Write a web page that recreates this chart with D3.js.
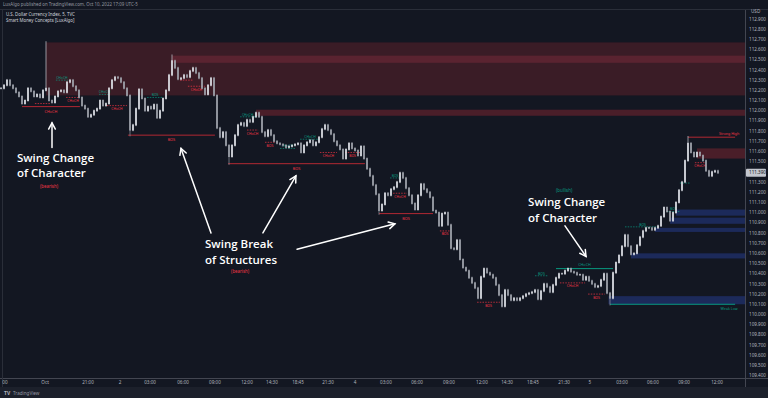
<!DOCTYPE html>
<html><head><meta charset="utf-8">
<script src="https://cdn.jsdelivr.net/npm/d3@7"></script>
<style>html,body{margin:0;padding:0;background:#131722;overflow:hidden}svg{display:block}</style>
</head><body><svg id="c" width="768" height="398"></svg>
<script>
// ---------- DATA ----------
const closes = [
112.22,112.25,112.30,112.25,112.22,112.18,112.14,112.07,112.10,112.22,
112.19,112.14,112.16,112.13,112.20,112.22,112.10,112.08,112.14,112.19,
112.20,112.18,112.28,112.30,112.24,112.20,112.13,112.05,112.02,111.94,
111.96,112.00,112.02,112.10,112.05,112.07,112.22,112.30,112.33,112.32,
112.28,112.22,112.15,111.81,111.86,112.02,112.21,112.12,112.00,112.04,
112.02,112.06,111.93,112.00,112.12,112.20,112.35,112.49,112.42,112.31,
112.32,112.35,112.33,112.39,112.42,112.37,112.32,112.22,112.16,112.25,
112.32,112.15,111.83,111.74,111.79,111.66,111.55,111.66,111.76,111.86,
111.88,111.85,111.91,111.89,111.94,111.98,111.94,111.79,111.75,111.81,
111.76,111.70,111.68,111.67,111.66,111.64,111.65,111.66,111.67,111.68,
111.59,111.66,111.69,111.71,111.66,111.69,111.74,111.82,111.86,111.81,
111.77,111.70,111.66,111.62,111.53,111.62,111.68,111.63,111.61,111.56,
111.65,111.53,111.43,111.36,111.27,111.18,111.02,111.08,111.19,111.17,
111.23,111.25,111.30,111.39,111.34,111.24,111.17,111.09,111.03,111.17,
111.28,111.23,111.20,111.15,111.02,111.00,110.87,110.99,111.00,110.88,
110.65,110.64,110.73,110.54,110.46,110.43,110.36,110.31,110.26,110.16,
110.37,110.45,110.41,110.39,110.36,110.29,110.19,110.08,110.24,110.19,
110.14,110.16,110.14,110.16,110.18,110.20,110.21,110.22,110.24,110.15,
110.23,110.30,110.27,110.22,110.29,110.36,110.40,110.40,110.43,110.45,
110.42,110.41,110.39,110.39,110.34,110.37,110.33,110.30,110.27,110.28,
110.34,110.40,110.21,110.16,110.41,110.51,110.58,110.67,110.78,110.67,
110.59,110.60,110.68,110.76,110.82,110.85,110.85,110.83,110.85,110.87,
110.96,111.05,111.01,110.92,111.00,111.10,111.22,111.30,111.51,111.68,
111.59,111.55,111.59,111.56,111.51,111.41,111.36,111.40,111.41,111.39
];
// notable wicks: [candle index, high, low]
const wickExtremes = [[15,112.67,null],[43,null,111.76],[57,112.54,null],[76,null,111.48],[126,null,110.99],[203,null,110.10],[229,111.74,null]];

const priceTicks = [112.9,112.8,112.7,112.6,112.5,112.4,112.3,112.2,112.1,112.0,111.9,111.8,111.7,111.6,111.5,111.4,111.3,111.2,111.1,111.0,110.9,110.8,110.7,110.6,110.5,110.4,110.3,110.2,110.1,110.0,109.9,109.8,109.7,109.6,109.5,109.4];
const timeTickLabels = ["00","Oct","21:00","2","03:00","06:00","09:00","12:00","14:30","18:45","21:30","4","03:00","06:00","09:00","12:00","14:30","18:45","21:30","5","03:00","06:00","09:00","12:00"];
const timeTickIndex  = [1.3,14.7,29,39.7,49.7,60.7,71.3,82,90.3,99,109,118,128.3,138.7,149.3,160.3,168.7,177.3,187.7,196.3,207,217.3,227.7,238.7];

// order blocks: [start index, top, bottom]
const bearZones = [[15,112.67,112.15],[57,112.54,112.47],[85,112.01,111.95],[232,111.63,111.53]];
const bullZones = [[225,111.03,110.97],[223,110.95,110.89],[218,110.85,110.81],[210,110.60,110.55],[202.5,110.18,110.10]];

// swing structure: [from, to, price, direction, label]
const swingLines = [[7,26.3,112.04,"bear","CHoCH"],[42.3,71.3,111.76,"bear","BOS"],[75.7,121.3,111.48,"bear","BOS"],[126,144,110.99,"bear","BOS"],[185,204,110.45,"bull","CHoCH"]];
// internal structure: [from, to, price, direction, label]
const internalLines = [
[11.3,16.3,112.07,"bear",""],[21.7,26.3,112.13,"bear","CHoCH"],[35.3,42,112.05,"bear","CHoCH"],[59.7,64,112.30,"bear",""],
[62.3,68,112.24,"bear","CHoCH"],[82,85.7,111.81,"bear","CHoCH"],[88,91.3,111.69,"bear","BOS"],[106.3,112,111.59,"bear","CHoCH"],
[114.7,119.7,111.59,"bear","BOS"],[130.7,135.3,111.19,"bear","CHoCH"],[146.3,149.7,110.82,"bear","BOS"],[158.7,166.3,110.12,"bear","BOS"],
[186.3,194.7,110.31,"bear","CHoCH"],[195.7,201.3,110.20,"bear","BOS"],[231.3,234.7,111.49,"bear","CHoCH"],
[18.3,22.3,112.30,"bull","CHoCH"],[32.7,36.3,112.16,"bull","CHoCH"],[48.7,54,112.13,"bull","BOS"],[79.7,84.7,111.94,"bull","CHoCH"],
[93,98,111.63,"bull","CHoCH"],[99.7,106.3,111.72,"bull","CHoCH"],[129.7,133,111.34,"bull","BOS"],[178,182.3,110.38,"bull","BOS"],
[208,219.7,110.86,"bull","BOS"],[222,226.3,111.01,"bull","BOS"],[226.3,229.7,111.29,"bull",""]
];
const strongHigh = [229,244.7,111.74,"Strong High"];
const weakLow = [203,244.7,110.10,"Weak Low"];

// annotations: lines, anchor index, anchor price (first baseline)
const notes = [
  {lines:["Swing Change","of Character"], i:5.3, p:111.50, tag:"(bearish)", ti:16, tp:111.26, dir:"bear"},
  {lines:["Swing Break","of Structures"], i:68, p:110.65, tag:"(bearish)", ti:79.7, tp:110.42, dir:"bear"},
  {lines:["Swing Change","of Character"], i:175.7, p:111.06, tag:"(bullish)", ti:187.7, tp:111.22, dir:"bull"}
];
// arrows: [from index, from price, to index, to price]
const arrows = [[17,111.64,17,111.88],[70,110.80,60,111.63],[87.3,110.80,98.3,111.36],[98.7,110.64,131.3,110.89],[188,110.87,195,110.57]];

// ---------- DRAW ----------
const W=768,H=398, plotR=745, plotB=378;
const svg=d3.select("#c");
const x=d3.scaleLinear().domain([0,239]).range([1,718]);
const y=d3.scaleLinear().domain([109.4,112.9]).range([375.6,19]);
const RED="#f23645", TEAL="#089981", SRED="#b22833";
const colr=d=>d==="bear"?RED:TEAL;

svg.append("rect").attr("width",W).attr("height",H).attr("fill","#131722");
svg.append("rect").attr("x",0).attr("y",387).attr("width",W).attr("height",11).attr("fill","#1c202b");

const plot=svg.append("g");
plot.append("clipPath").attr("id","clip").append("rect").attr("x",0).attr("y",10).attr("width",plotR).attr("height",plotB-10);
const g=plot.append("g").attr("clip-path","url(#clip)");

// zones
g.selectAll(".bz").data(bearZones).join("rect")
 .attr("x",d=>x(d[0])).attr("y",d=>y(d[1])).attr("width",d=>plotR-x(d[0])).attr("height",d=>y(d[2])-y(d[1]))
 .attr("fill",(d,k)=>k===0?"#3a1c26":(k===1?"#5a2330":"#4a1e29"));
g.selectAll(".uz").data(bullZones).join("rect")
 .attr("x",d=>x(d[0])).attr("y",d=>y(d[1])).attr("width",d=>plotR-x(d[0])).attr("height",d=>y(d[2])-y(d[1]))
 .attr("fill","#1c2a5a");

// internal structure
g.selectAll(".il").data(internalLines).join("line")
 .attr("x1",d=>x(d[0])).attr("x2",d=>x(d[1])).attr("y1",d=>y(d[2])).attr("y2",d=>y(d[2]))
 .attr("stroke",d=>colr(d[3])).attr("stroke-width",0.7).attr("stroke-dasharray","1.5,1.2");
g.selectAll(".it").data(internalLines.filter(d=>d[4])).join("text")
 .attr("x",d=>(x(d[0])+x(d[1]))/2).attr("y",d=>y(d[2])+(d[3]==="bear"?4.5:-1.2))
 .attr("text-anchor","middle").attr("font-size",3.4).attr("font-family","Noto Sans").attr("fill",d=>colr(d[3])).text(d=>d[4]);

// swing structure
g.selectAll(".sl").data(swingLines).join("line")
 .attr("x1",d=>x(d[0])).attr("x2",d=>x(d[1])).attr("y1",d=>y(d[2])).attr("y2",d=>y(d[2]))
 .attr("stroke",d=>d[3]==="bear"?SRED:TEAL).attr("stroke-width",1);
g.selectAll(".st").data(swingLines).join("text")
 .attr("x",d=>(x(d[0])+x(d[1]))/2).attr("y",d=>y(d[2])+(d[3]==="bear"?6:-2.5))
 .attr("text-anchor","middle").attr("font-size",3.8).attr("font-family","Noto Sans").attr("fill",d=>colr(d[3])).text(d=>d[4]);

[[strongHigh,SRED,"bear"],[weakLow,TEAL,"bull"]].forEach(([d,c,dir])=>{
  g.append("line").attr("x1",x(d[0])).attr("x2",x(d[1])).attr("y1",y(d[2])).attr("y2",y(d[2])).attr("stroke",c).attr("stroke-width",1);
  g.append("text").attr("x",x(d[1])-6).attr("y",y(d[2])+(dir==="bear"?-2.5:5.5)).attr("text-anchor","middle")
   .attr("font-size",3.6).attr("font-family","Noto Sans").attr("fill",dir==="bear"?RED:TEAL).text(d[3]);
});

// candles
const candles=closes.map((c,i)=>{
  const o=i?closes[i-1]:c; let h=Math.max(o,c), l=Math.min(o,c);
  const e=wickExtremes.find(w=>w[0]===i);
  if(e){ if(e[1]!=null) h=Math.max(h,e[1]); if(e[2]!=null) l=Math.min(l,e[2]); }
  return {i,o,c,h,l,up:c>=o};
});
g.selectAll(".wk").data(candles).join("line")
 .attr("x1",d=>x(d.i)).attr("x2",d=>x(d.i)).attr("y1",d=>y(d.h)-1.2).attr("y2",d=>y(d.l)+1.2)
 .attr("stroke",d=>d.up?"#c9ccd4":"#9296a0").attr("stroke-width",0.7);
g.selectAll(".bd").data(candles).join("rect")
 .attr("x",d=>x(d.i)-0.8).attr("width",1.6)
 .attr("y",d=>y(Math.max(d.o,d.c))-0.5).attr("height",d=>Math.abs(y(d.o)-y(d.c))+1)
 .attr("fill",d=>d.up?"#e2e4ea":"#a3a7b0");

// annotations (one text block each, lines as tspans)
const ann=svg.append("g").attr("font-family","Open Sans").attr("font-weight",600).attr("fill","#fff");
notes.forEach(n=>{
  const t=ann.append("text").attr("x",x(n.i)).attr("y",y(n.p)).attr("font-size",11.5);
  n.lines.forEach((s,k)=>t.append("tspan").attr("x",x(n.i)).attr("dy",k?15.8:0).text(s));
  svg.append("text").attr("x",x(n.ti)).attr("y",y(n.tp)+1.5).attr("text-anchor","middle").attr("font-size",4.4)
   .attr("font-family","Noto Sans").attr("fill",colr(n.dir)).text(n.tag);
});
const ag=svg.append("g").attr("stroke","#fff").attr("stroke-width",1.5).attr("fill","none").attr("stroke-linecap","round");
arrows.forEach(a=>{
  const x1=x(a[0]),y1=y(a[1]),x2=x(a[2]),y2=y(a[3]);
  ag.append("line").attr("x1",x1).attr("y1",y1).attr("x2",x2).attr("y2",y2);
  const ang=Math.atan2(y2-y1,x2-x1), L=7, s=0.5;
  ag.append("polyline").attr("points",[[x2-L*Math.cos(ang-s),y2-L*Math.sin(ang-s)],[x2,y2],[x2-L*Math.cos(ang+s),y2-L*Math.sin(ang+s)]].map(p=>p.join(",")).join(" "));
});

// frame lines
svg.append("line").attr("x1",0).attr("x2",W).attr("y1",9.5).attr("y2",9.5).attr("stroke","#2a2e39");
svg.append("line").attr("x1",plotR+0.5).attr("x2",plotR+0.5).attr("y1",10).attr("y2",387).attr("stroke","#434651");
svg.append("line").attr("x1",0).attr("x2",W).attr("y1",plotB+0.5).attr("y2",plotB+0.5).attr("stroke","#434651");
svg.append("line").attr("x1",2.5).attr("x2",2.5).attr("y1",10).attr("y2",387).attr("stroke","#2a2e39");

// price axis
const last=closes[closes.length-1];
const ax=svg.append("g").attr("font-family","Noto Sans").attr("font-size",4.6).attr("fill","#b2b5be");
ax.selectAll("text").data(priceTicks.filter(p=>Math.abs(y(p)-y(last))>5)).join("text")
 .attr("x",749).attr("y",d=>y(d)+1.6).text(d=>d.toFixed(3));
ax.append("text").attr("x",751).attr("y",13).text("USD");
svg.append("rect").attr("x",746).attr("y",y(last)-4).attr("width",20).attr("height",8).attr("fill","#c3c6ce").attr("rx",1);
svg.append("text").attr("x",749).attr("y",y(last)+1.6).attr("font-family","Noto Sans").attr("font-size",4.6).attr("fill","#131722").text(last.toFixed(3));

// time axis
const tx=svg.append("g").attr("font-family","Noto Sans").attr("font-size",4.6).attr("fill","#b2b5be").attr("text-anchor","middle");
tx.selectAll("text").data(timeTickLabels).join("text").attr("x",(d,k)=>x(timeTickIndex[k])).attr("y",384).text(d=>d);

// header & legend
svg.append("text").attr("x",3).attr("y",5.5).attr("font-family","Noto Sans").attr("font-size",4.4).attr("fill","#9598a1")
 .text("LuxAlgo published on TradingView.com, Oct 10, 2022 17:09 UTC-5");
svg.append("text").attr("x",6).attr("y",15.5).attr("font-family","Noto Sans").attr("font-size",4.4).attr("fill","#d1d4dc").text("U.S. Dollar Currency Index, 5, TVC");
svg.append("text").attr("x",6).attr("y",21.5).attr("font-family","Noto Sans").attr("font-size",4.4).attr("fill","#d1d4dc").text("Smart Money Concepts [LuxAlgo]");
svg.append("text").attr("x",4).attr("y",394.5).attr("font-family","Noto Sans").attr("font-weight",700).attr("font-size",5).attr("fill","#b2b5be").text("TV");
svg.append("text").attr("x",13).attr("y",394.5).attr("font-family","Noto Sans").attr("font-size",4.6).attr("fill","#9598a1").text("TradingView");
</script></body></html>
